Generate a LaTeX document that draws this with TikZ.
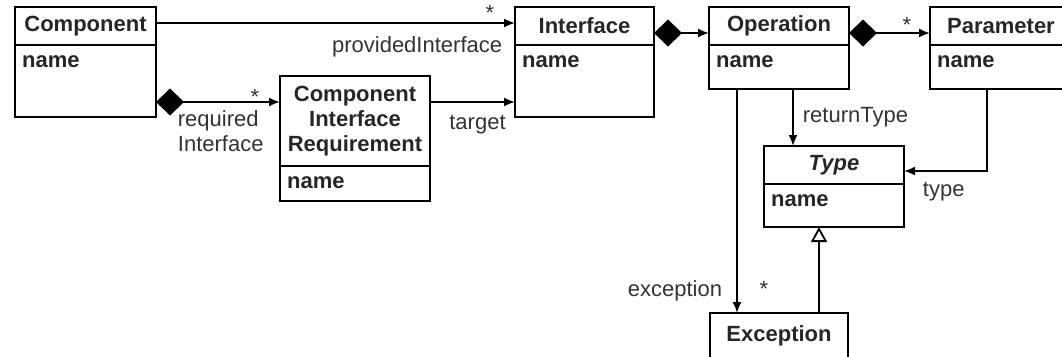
\documentclass[tikz,border=0pt]{standalone}
\usepackage{fontspec}
\setmainfont{Liberation Sans}
\usetikzlibrary{arrows.meta}

\newcommand\umlsize{\fontsize{22}{25}\selectfont}

\tikzset{
	hdr/.style={draw, line width=1.8pt, inner sep=0pt, outer sep=0pt, minimum height=38pt, font=\umlsize\bfseries, text=black!85, anchor=north west},
	body/.style={draw, line width=1.8pt, inner sep=0pt, outer sep=0pt, anchor=north},
	lbl/.style={inner sep=0pt, font=\umlsize, text=black!80},
	assoc/.style={line width=1.8pt, -{Latex[length=11pt,width=9pt]}},
	owns/.style={line width=1.8pt, {Diamond[length=28pt,width=27pt]}-{Latex[length=11pt,width=9pt]}},
	isa/.style={line width=1.8pt, -{Triangle[open,length=15pt,width=16pt]}}
}

\begin{document}
\begin{tikzpicture}[x=1pt, y=-1pt]
	\useasboundingbox (0,0) rectangle (1062,356);
	\clip (0,0) rectangle (1062,356);

	\foreach \n/\t/\x/\w/\h in {comp/Component/15/141/72, intf/Interface/515/139/72, oper/Operation/709/140/44, para/Parameter/930/142/44}
	{
		\node[hdr, minimum width=\w pt] (\n) at (\x, 7) {\t};
		\node[body, minimum width=\w pt, minimum height=\h pt] (\n-b) at (\n.south) {};
		\node[lbl, anchor=west, font=\umlsize\bfseries, text=black!85] (\n-a) at ([xshift=7pt, yshift=-17pt]\n-b.north west) {name};
	}

	\node[hdr, minimum width=150pt, minimum height=90pt, align=center] (cir) at (280,76) {Component\\Interface\\Requirement};
	\node[body, minimum width=150pt, minimum height=35pt] (cir-b) at (cir.south) {};
	\node[lbl, anchor=west, font=\umlsize\bfseries, text=black!85] (cir-a) at ([xshift=7pt, yshift=-17pt]cir-b.north west) {name};

	\node[hdr, minimum width=140pt] (type) at (764,146) {\textit{Type}};
	\node[body, minimum width=140pt, minimum height=43pt] (type-b) at (type.south) {};
	\node[lbl, anchor=west, font=\umlsize\bfseries, text=black!85] (type-a) at ([xshift=7pt, yshift=-17pt]type-b.north west) {name};

	\node[hdr, minimum width=138pt, minimum height=46pt] (exc) at (710,313) {Exception};

	% associations
	\draw[assoc] ([yshift=3pt]comp.east) -- ([yshift=3pt]intf.west)
		node[lbl, pos=1, xshift=-25pt, yshift=10pt] (m-prov) {*}
		node[lbl, pos=1, anchor=north east, xshift=-12pt, yshift=-13pt] (l-prov) {providedInterface};

	\draw[owns] ([yshift=-21pt]comp-b.east) -- ([yshift=19pt]cir.west)
		node[lbl, pos=1, xshift=-25pt, yshift=5pt] (m-req) {*}
		node[lbl, pos=0, anchor=north west, align=left, xshift=21pt, yshift=-8pt] (l-req) {required\\Interface};

	\draw[assoc] ([yshift=19pt]cir.east) -- ([yshift=19pt]cir.east -| intf-b.west)
		node[lbl, midway, below=12pt, xshift=5pt] (l-tgt) {target};

	\draw[owns] ([yshift=-7pt]intf.east) -- ([yshift=-7pt]oper.west);
	\draw[owns] ([yshift=-7pt]oper.east) -- ([yshift=-7pt]para.west)
		node[lbl, pos=1, xshift=-23pt, yshift=8pt] (m-par) {*};

	\draw[assoc] ([xshift=14pt]oper-b.south) -- ([xshift=14pt]oper-b.south |- type.north)
		node[lbl, midway, right=9pt] (l-ret) {returnType};

	\draw[assoc] ([xshift=-14pt]para-b.south) |- ([yshift=-6pt]type.east)
		node[lbl, pos=1, anchor=north west, xshift=18pt, yshift=-10pt] (l-typ) {type};

	\draw[assoc] ([xshift=-42pt]oper-b.south) -- ([xshift=-42pt]oper-b.south |- exc.north)
		node[lbl, pos=1, anchor=east, xshift=-14pt, yshift=22pt] (l-exc) {exception}
		node[lbl, pos=1, xshift=27pt, yshift=24pt] (m-exc) {*};

	% generalization
	\draw[isa] ([xshift=40pt]exc.north) -- ([xshift=40pt]exc.north |- type-b.south);

\end{tikzpicture}
\end{document}
